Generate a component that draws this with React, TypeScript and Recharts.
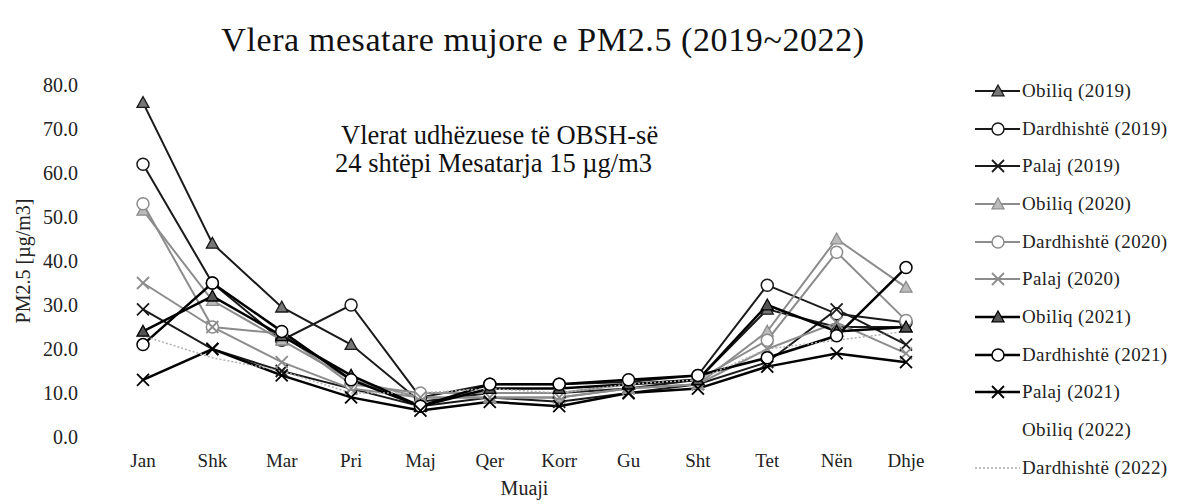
import React from 'react';
import { LineChart, Line, XAxis, YAxis } from 'recharts';

const months = ['Jan', 'Shk', 'Mar', 'Pri', 'Maj', 'Qer', 'Korr', 'Gu', 'Sht', 'Tet', 'Nën', 'Dhje'];
const yTicks = [0, 10, 20, 30, 40, 50, 60, 70, 80];

const obiliq2019 = [76, 44, 29.5, 21, 8, 10, 10, 11, 13, 29, 25, 25];
const dardhishte2019 = [62, 35, 22, 30, 9, 12, 12, 12.5, 14, 34.5, 28, 26];
const palaj2019 = [29, 20, 15, 11, 7, 9, 8, 10, 12, 17, 29, 21];
const obiliq2020 = [51.5, 31, 22, 13, 9, 9, 9, 11, 12, 24, 45, 34];
const dardhishte2020 = [53, 25, 23.5, 12, 10, 10, 10, 12, 13, 22, 42, 26.5];
const palaj2020 = [35, 25, 17, 11, 9, 9, 9, 11, 12, 20, 26, 19];
const obiliq2021 = [24, 32, 23, 14, 7, 11, 11, 12, 13, 30, 24, 25];
const dardhishte2021 = [21, 35, 24, 13, 7, 12, 12, 13, 14, 18, 23, 38.5];
const palaj2021 = [13, 20, 14, 9, 6, 8, 7, 10, 11, 16, 19, 17];
const obiliq2022: (number | null)[] = [null, null, null, null, null, null, null, null, null, null, null, null];
const dardhishte2022 = [23, 18, 15, 10, 10, 11, 10, 12, 13, 20, 22, 24];

const data = months.map((m, i) => ({
  month: m,
  o19: obiliq2019[i],
  d19: dardhishte2019[i],
  p19: palaj2019[i],
  o20: obiliq2020[i],
  d20: dardhishte2020[i],
  p20: palaj2020[i],
  o21: obiliq2021[i],
  d21: dardhishte2021[i],
  p21: palaj2021[i],
  o22: obiliq2022[i],
  d22: dardhishte2022[i],
}));

type MarkerKind = 'tri' | 'circle' | 'x' | 'none';

const series: { key: string; name: string; color: string; fill: string; marker: MarkerKind; width: number; dash?: string }[] = [
  { key: 'o19', name: 'Obiliq (2019)', color: '#1a1a1a', fill: '#777', marker: 'tri', width: 2 },
  { key: 'd19', name: 'Dardhishtë (2019)', color: '#1a1a1a', fill: '#fff', marker: 'circle', width: 2 },
  { key: 'p19', name: 'Palaj (2019)', color: '#1a1a1a', fill: '#fff', marker: 'x', width: 2 },
  { key: 'o20', name: 'Obiliq (2020)', color: '#8c8c8c', fill: '#bbb', marker: 'tri', width: 2 },
  { key: 'd20', name: 'Dardhishtë (2020)', color: '#8c8c8c', fill: '#fff', marker: 'circle', width: 2 },
  { key: 'p20', name: 'Palaj (2020)', color: '#8c8c8c', fill: '#fff', marker: 'x', width: 2 },
  { key: 'o21', name: 'Obiliq (2021)', color: '#000', fill: '#555', marker: 'tri', width: 2.5 },
  { key: 'd21', name: 'Dardhishtë (2021)', color: '#000', fill: '#fff', marker: 'circle', width: 2.5 },
  { key: 'p21', name: 'Palaj (2021)', color: '#000', fill: '#fff', marker: 'x', width: 2.5 },
  { key: 'o22', name: 'Obiliq (2022)', color: 'none', fill: 'none', marker: 'none', width: 0 },
  { key: 'd22', name: 'Dardhishtë (2022)', color: '#b0b0b0', fill: 'none', marker: 'none', width: 1.5, dash: '2 2' },
];

const FONT = "'Liberation Serif', 'Times New Roman', serif";

function MarkerShape({ kind, cx, cy, color, fill }: { kind: MarkerKind; cx: number; cy: number; color: string; fill: string }) {
  const s = 6;
  if (kind === 'tri') {
    return <polygon points={`${cx},${cy - s} ${cx - s},${cy + s * 0.8} ${cx + s},${cy + s * 0.8}`} fill={fill} stroke={color} strokeWidth={1.3} />;
  }
  if (kind === 'circle') {
    return <circle cx={cx} cy={cy} r={s} fill={fill} stroke={color} strokeWidth={1.5} />;
  }
  if (kind === 'x') {
    return (
      <g stroke={color} strokeWidth={1.8}>
        <line x1={cx - s} y1={cy - s} x2={cx + s} y2={cy + s} />
        <line x1={cx - s} y1={cy + s} x2={cx + s} y2={cy - s} />
      </g>
    );
  }
  return <g />;
}

const makeDot = (kind: MarkerKind, color: string, fill: string) => (props: any) => {
  const { cx, cy, index, dataKey } = props;
  if (cx == null || cy == null || kind === 'none') return <g key={`${dataKey}-${index}`} />;
  return (
    <g key={`${dataKey}-${index}`}>
      <MarkerShape kind={kind} cx={cx} cy={cy} color={color} fill={fill} />
    </g>
  );
};

function LegendBlock() {
  return (
    <div style={{ position: 'absolute', left: 967, top: 64, fontFamily: FONT, fontSize: 19, color: '#222' }}>
      {series.map((s) => (
        <div key={s.key} style={{ height: 37.7, display: 'flex', alignItems: 'center' }}>
          <svg width={46} height={20} style={{ display: 'block' }}>
            {s.marker !== 'none' || s.dash ? (
              <line x1={0} y1={10} x2={45} y2={10} stroke={s.color} strokeWidth={s.width} strokeDasharray={s.dash} />
            ) : null}
            <MarkerShape kind={s.marker} cx={23} cy={10} color={s.color} fill={s.fill} />
          </svg>
          <span style={{ marginLeft: 1, whiteSpace: 'nowrap', letterSpacing: 0.4 }}>{s.name}</span>
        </div>
      ))}
    </div>
  );
}

export default function App() {
  return (
    <div style={{ position: 'relative', width: 1180, height: 496, fontFamily: FONT }}>
      <LineChart
        width={1180}
        height={496}
        data={data}
        margin={{ top: 77, right: 247, bottom: 0, left: 0 }}
        style={{ fontFamily: FONT }}
      >
        <XAxis
          dataKey="month"
          axisLine={false}
          tickLine={false}
          tickSize={0}
          tickMargin={17}
          height={67}
          interval={0}
          padding={{ left: 35, right: 35 }}
          tick={{ fontSize: 19, fill: '#222', fontFamily: FONT }}
          label={{ value: 'Muaji', position: 'insideBottom', offset: 9, fontSize: 20, fill: '#222', fontFamily: FONT }}
        />
        <YAxis
          domain={[0, 80]}
          ticks={yTicks}
          axisLine={false}
          tickLine={false}
          tickSize={0}
          tickMargin={30}
          width={100}
          tickFormatter={(v: number) => v.toFixed(1)}
          tick={{ fontSize: 20, fill: '#222', fontFamily: FONT }}
          label={{ value: 'PM2.5 [µg/m3]', angle: -90, position: 'insideLeft', offset: 15, fontSize: 20, fill: '#222', fontFamily: FONT, style: { textAnchor: 'middle' } }}
        />
        {series.map((s) => (
          <Line
            key={s.key}
            dataKey={s.key}
            name={s.name}
            type="linear"
            stroke={s.color}
            strokeWidth={s.width}
            strokeDasharray={s.dash}
            dot={makeDot(s.marker, s.color, s.fill)}
            activeDot={false}
            isAnimationActive={false}
            connectNulls={false}
          />
        ))}
      </LineChart>
      <div
        style={{
          position: 'absolute',
          left: 0,
          width: 1070,
          top: 13,
          textAlign: 'center',
          fontSize: 34,
          letterSpacing: 0.6,
          color: '#111',
          fontFamily: FONT,
        }}
      >
        Vlera mesatare mujore e PM2.5 (2019~2022)
      </div>
      <div
        style={{
          position: 'absolute',
          left: 327,
          top: 113,
          fontSize: 26.5,
          lineHeight: '28px',
          color: '#111',
          fontFamily: FONT,
        }}
      >
        <div style={{ paddingLeft: 6 }}>Vlerat udhëzuese të OBSH-së</div>
        <div>24 shtëpi Mesatarja 15 µg/m3</div>
      </div>
      <LegendBlock />
    </div>
  );
}
